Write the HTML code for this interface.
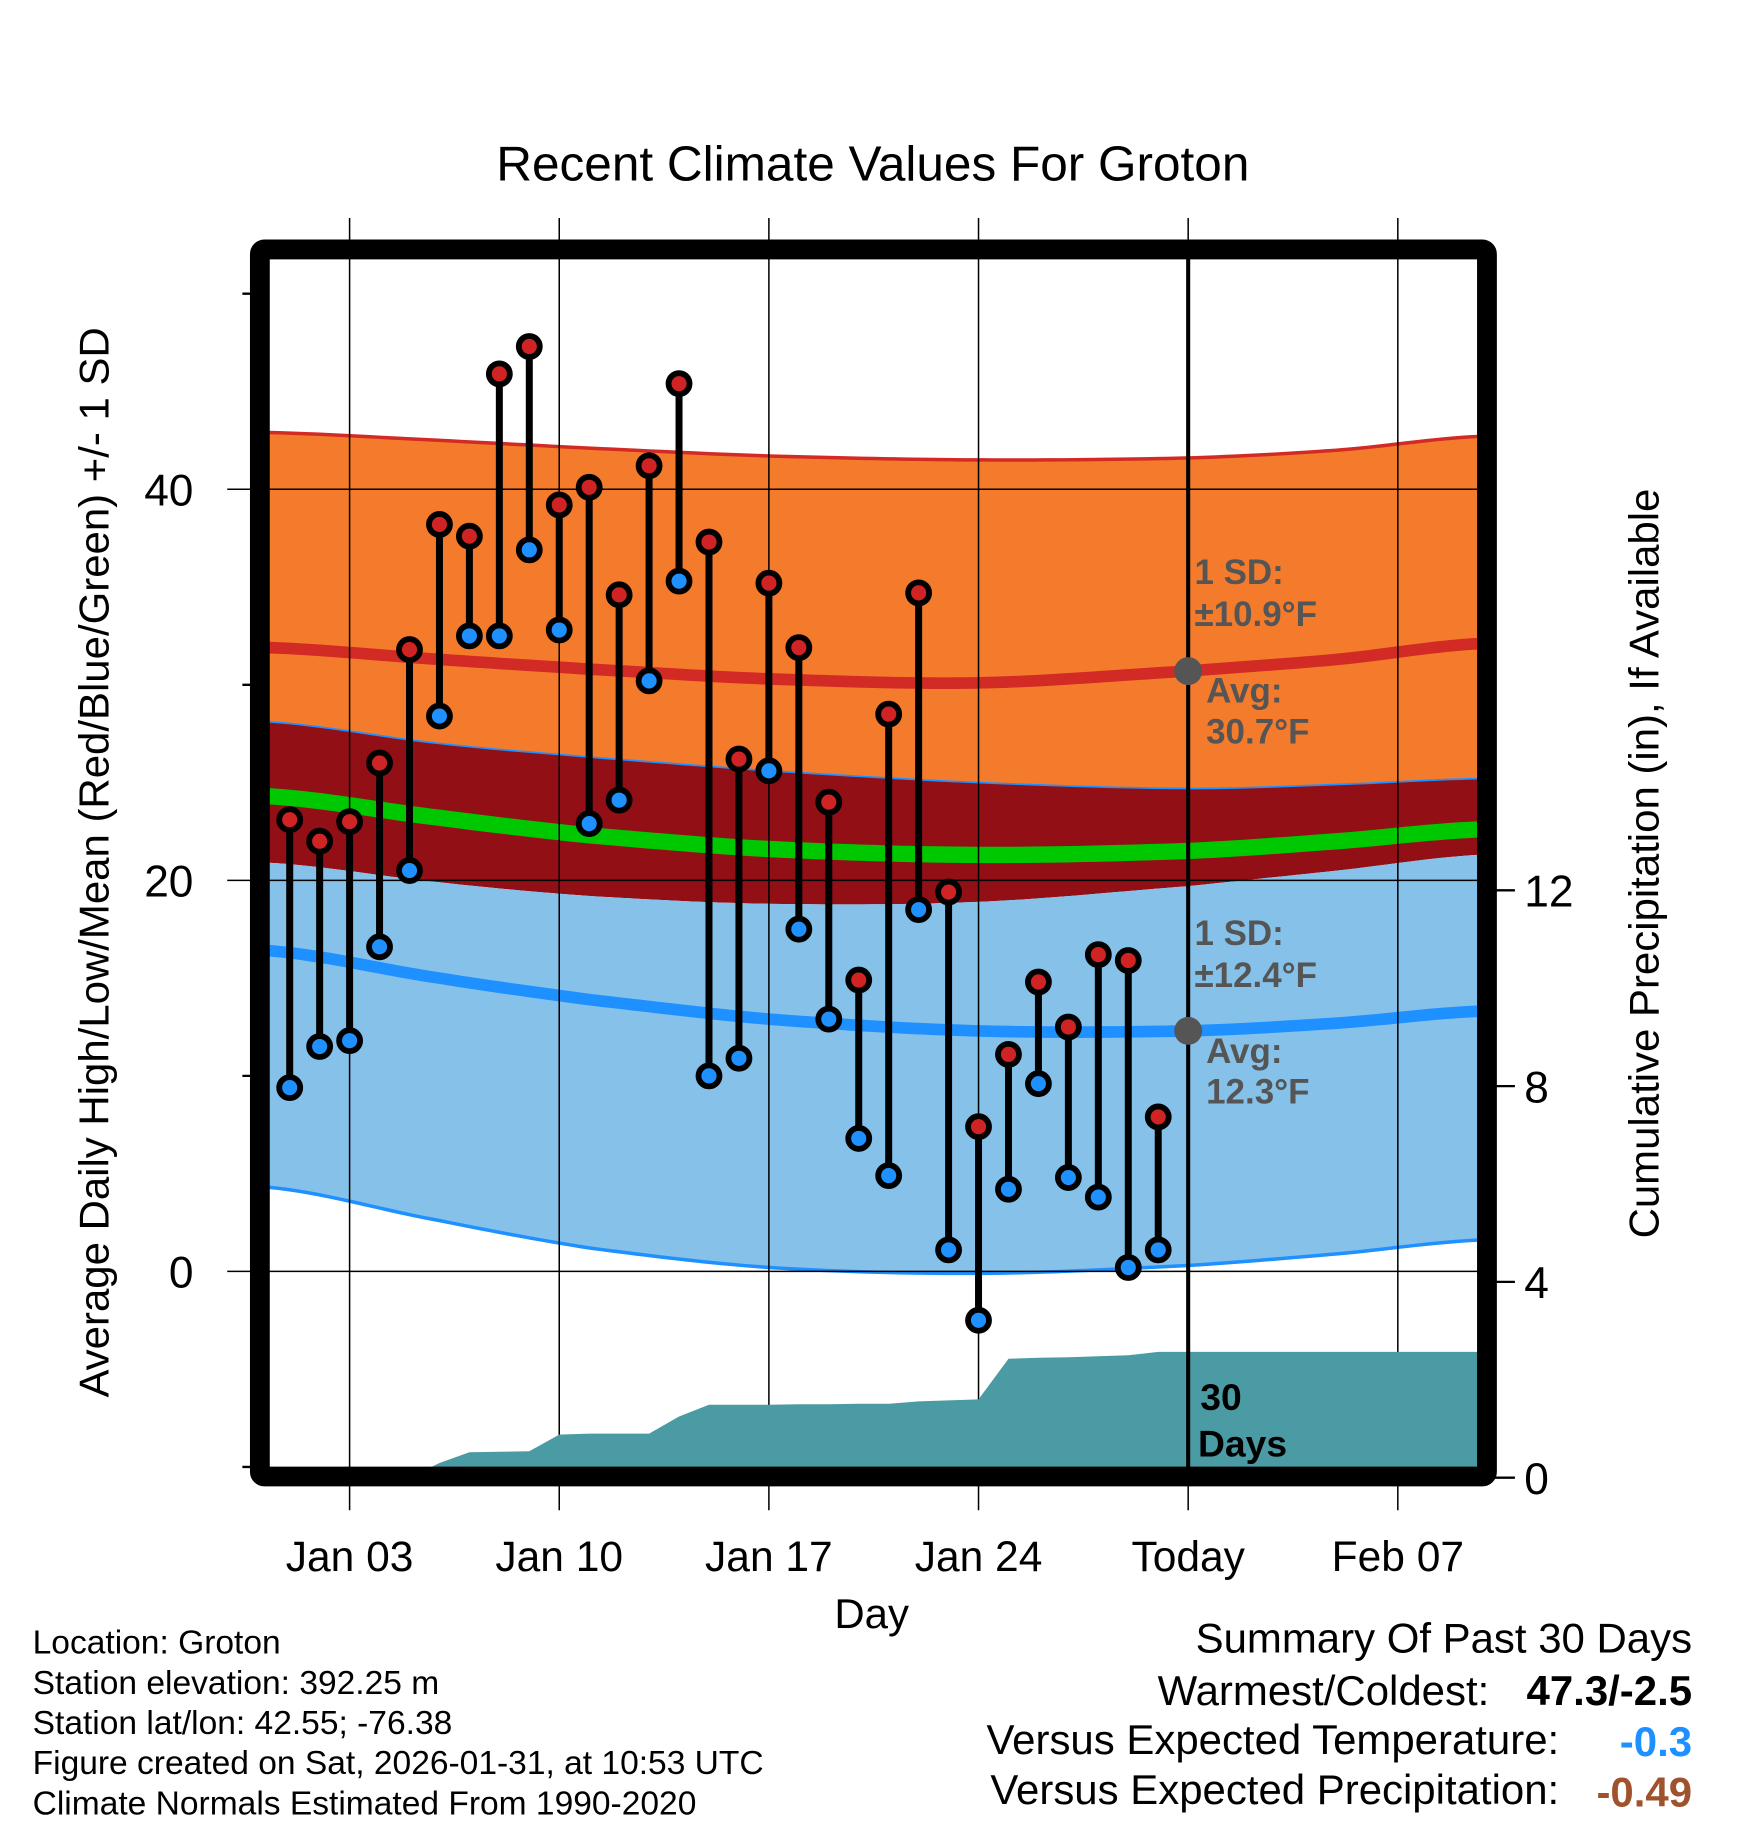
<!DOCTYPE html>
<html><head><meta charset="utf-8"><style>
html,body{margin:0;padding:0;background:#fff}
svg{display:block}
text{font-family:"Liberation Sans",sans-serif}
</style></head><body>
<svg id="chart" xmlns="http://www.w3.org/2000/svg" width="1748" height="1828" viewBox="0 0 1500 1568.6">
<g id="bands"></g>
<g id="grid"></g>
<g id="precip"></g>
<g id="marks"></g>
<g id="labels"></g>
</svg>
<script>
const dayLabels = ["Jan 03","Jan 10","Jan 17","Jan 24","Today","Feb 07"];
const dayTicks = [2,9,16,23,30,37];
const highs = [23.1,22.0,23.0,26.0,31.8,38.2,37.6,45.9,47.3,39.2,40.1,34.6,41.2,45.4,37.3,26.2,35.2,31.9,24.0,14.9,28.5,34.7,19.4,7.4,11.1,14.8,12.5,16.2,15.9,7.9];
const lows = [9.4,11.5,11.8,16.6,20.5,28.4,32.5,32.5,36.9,32.8,22.9,24.1,30.2,35.3,10.0,10.9,25.6,17.5,12.9,6.8,4.9,18.5,1.1,-2.5,4.2,9.6,4.8,3.8,0.2,1.1];
const precipCum = [0,0,0,0,0,0.3,0.52,0.53,0.54,0.88,0.9,0.9,0.9,1.25,1.49,1.49,1.49,1.5,1.5,1.51,1.51,1.56,1.58,1.6,2.43,2.45,2.46,2.48,2.5,2.57];
const normDays = [-0.68,5,10,16,23,30,35,39.66];
const normHighMean = [31.9,31.3,30.8,30.3,30.1,30.7,31.3,32.1];
const normHighUp = [42.9,42.5,42.1,41.7,41.5,41.6,42.0,42.7];
const normHighDn = [28.1,27.0,26.3,25.6,25.0,24.7,24.9,25.2];
const normMean = [24.3,23.2,22.3,21.6,21.3,21.5,22.0,22.6];
const normLowUp = [20.9,19.9,19.2,18.8,18.9,19.7,20.5,21.3];
const normLowMean = [16.4,15.0,13.9,12.9,12.3,12.3,12.7,13.3];
const normLowDn = [4.3,2.6,1.2,0.2,-0.1,0.3,0.9,1.6];
const yTicks = [0,20,40];
const precipTicks = [0,4,8,12];

const NS="http://www.w3.org/2000/svg";
const X0=231,X1=1268,Y0=222,Y1=1259;
const xs=d=>248.6+d*25.7;
const yT=t=>1091-t*16.78;
const yP=p=>1268-p*42;
function mk(tag,attrs,parent){const e=document.createElementNS(NS,tag);for(const k in attrs)e.setAttribute(k,attrs[k]);parent.appendChild(e);return e;}
function interp(arr,d){const n=normDays.length;for(let i=0;i<n-1;i++){if(d<=normDays[i+1]){const t=(d-normDays[i])/(normDays[i+1]-normDays[i]);
const p0=arr[Math.max(i-1,0)],p1=arr[i],p2=arr[i+1],p3=arr[Math.min(i+2,n-1)];
const m1=(p2-p0)/2,m2=(p3-p1)/2;const t2=t*t,t3=t2*t;
return (2*t3-3*t2+1)*p1+(t3-2*t2+t)*m1+(-2*t3+3*t2)*p2+(t3-t2)*m2;}}return arr[n-1];}
function curve(arr){const pts=[];for(let k=0;k<=120;k++){const d=normDays[0]+(normDays[normDays.length-1]-normDays[0])*k/120;pts.push([xs(d).toFixed(2),yT(interp(arr,d)).toFixed(2)]);}return pts;}
function band(top,bot){const a=curve(top),b=curve(bot).reverse();return a.concat(b).map(p=>p.join(',')).join(' ');}
const bands=document.getElementById('bands');
let e;
e=mk('polygon',{points:band(normHighUp,normHighDn),fill:'#f47b2c'},bands);


e=mk('polygon',{points:band(normHighDn,normLowUp),fill:'#930f16'},bands);


e=mk('polygon',{points:band(normLowUp,normLowDn),fill:'#85c1e9'},bands);


const lineDefs=[[normHighUp,'#d22a24',3,'high-upper-line'],[normHighDn,'#1e90ff',1.5,'high-lower-line'],[normLowDn,'#1e90ff',3,'low-lower-line'],[normHighMean,'#d22a24',10,'normal-high-line'],[normLowMean,'#1e90ff',10,'normal-low-line'],[normMean,'#00c800',14,'normal-mean-line']];
for(const [arr,c,w,n] of lineDefs){e=mk('polyline',{points:curve(arr).map(p=>p.join(',')).join(' '),fill:'none',stroke:c,'stroke-width':w},bands);

}
const pr=document.getElementById('precip');
let pp=[[xs(0),yP(0)]];precipCum.forEach((v,i)=>pp.push([xs(i),yP(v)]));
pp.push([X1,yP(precipCum[precipCum.length-1])]);pp.push([X1,yP(0)]);pp.push([X0,yP(0)]);
e=mk('polygon',{points:pp.map(p=>p.join(',')).join(' '),fill:'#4a9ba3'},pr);


const g=document.getElementById('grid');
dayTicks.forEach((d,i)=>{e=mk('line',{x1:xs(d),x2:xs(d),y1:187,y2:1296,stroke:'#000','stroke-width':1.3},g);

});
yTicks.forEach(t=>{e=mk('line',{x1:195,x2:X1,y1:yT(t),y2:yT(t),stroke:'#000','stroke-width':1.3},g);

});
[-10,10,30,50].forEach(t=>{mk('line',{x1:208,x2:222,y1:yT(t),y2:yT(t),stroke:'#000','stroke-width':2},g);});
precipTicks.forEach(p=>{e=mk('line',{x1:1276,x2:1300,y1:yP(p),y2:yP(p),stroke:'#000','stroke-width':2},g);

});
const m=document.getElementById('marks');
highs.forEach((h,i)=>{const x=xs(i);
e=mk('line',{x1:x,x2:x,y1:yT(h),y2:yT(lows[i]),stroke:'#000','stroke-width':6},m);

});
highs.forEach((h,i)=>{const x=xs(i);
e=mk('circle',{cx:x,cy:yT(h),r:9,fill:'#d02424',stroke:'#000','stroke-width':5},m);


e=mk('circle',{cx:x,cy:yT(lows[i]),r:9,fill:'#1e90ff',stroke:'#000','stroke-width':5},m);

});
e=mk('line',{x1:xs(30),x2:xs(30),y1:Y0,y2:Y1,stroke:'#000','stroke-width':3.5},m);


e=mk('circle',{cx:xs(30),cy:yT(interp(normHighMean,30)),r:12,fill:'#555'},m);


e=mk('circle',{cx:xs(30),cy:yT(interp(normLowMean,30)),r:12,fill:'#555'},m);


e=mk('rect',{x:223,y:214,width:1053,height:1053,fill:'none',stroke:'#000','stroke-width':17,rx:4},m);


const L=document.getElementById('labels');
function txt(s,x,y,size,opts){const t=mk('text',Object.assign({x:x,y:y,'font-size':size},opts||{}),L);t.textContent=s;return t;}
e=txt('Recent Climate Values For Groton',749,155,42.5,{'text-anchor':'middle'});


yTicks.forEach(t=>{e=txt(String(t),166,yT(t)+14,38,{'text-anchor':'end'});

});
precipTicks.forEach(p=>{e=txt(String(p),1308,yP(p)+14,38,{});

});
dayTicks.forEach((d,i)=>{e=txt(dayLabels[i],xs(d),1348,36.5,{'text-anchor':'middle'});

});
e=txt('Day',748,1397,36,{'text-anchor':'middle'});


e=txt('Average Daily High/Low/Mean (Red/Blue/Green) +/- 1 SD',0,0,36,{'text-anchor':'middle',transform:'translate(93,740) rotate(-90)'});


e=txt('Cumulative Precipitation (in), If Available',0,0,36,{'text-anchor':'middle',transform:'translate(1423,741) rotate(-90)'});


const ann=[['1 SD:',1025,501],['±10.9°F',1025,537],['Avg:',1035,603],['30.7°F',1035,638],['1 SD:',1025,811],['±12.4°F',1025,847],['Avg:',1035,912],['12.3°F',1035,947]];
ann.forEach(a=>{e=txt(a[0],a[1],a[2],30,{'font-weight':'bold',fill:'#555'});

});
e=txt('30',1030,1210,32,{'font-weight':'bold'});


e=txt('Days',1028,1250,32,{'font-weight':'bold'});


const info=['Location: Groton','Station elevation: 392.25 m','Station lat/lon: 42.55; -76.38','Figure created on Sat, 2026-01-31, at 10:53 UTC','Climate Normals Estimated From 1990-2020'];
info.forEach((s,i)=>{e=txt(s,28,1419+i*34.5,28.8,{});

});
e=txt('Summary Of Past 30 Days',1452,1418,36,{'text-anchor':'end'});


e=txt('Warmest/Coldest:',1278,1463,36,{'text-anchor':'end'});


e=txt('47.3/-2.5',1452,1463,36,{'text-anchor':'end','font-weight':'bold'});


e=txt('Versus Expected Temperature:',1338,1505,36,{'text-anchor':'end'});


e=txt('-0.3',1452,1507,36,{'text-anchor':'end','font-weight':'bold',fill:'#1e90ff'});


e=txt('Versus Expected Precipitation:',1338,1548,36,{'text-anchor':'end'});


e=txt('-0.49',1452,1550,36,{'text-anchor':'end','font-weight':'bold',fill:'#a0522d'});


</script>
</body></html>
